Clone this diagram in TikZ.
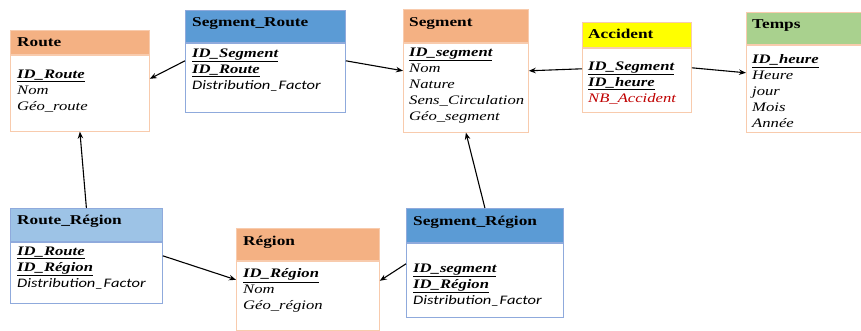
\documentclass[tikz,border=0pt]{standalone}
\usepackage{fontspec}
\setmainfont{Liberation Serif}[FakeStretch=1.28]
\setsansfont{Carlito}[FakeStretch=1.27]
\usetikzlibrary{arrows.meta,positioning,calc}
\definecolor{hdorange}{RGB}{244,177,131}
\definecolor{bdorange}{RGB}{248,203,173}
\definecolor{hdblue}{RGB}{91,155,213}
\definecolor{bdblue}{RGB}{143,170,220}
\definecolor{hdlblue}{RGB}{157,195,230}
\definecolor{hdyellow}{RGB}{255,255,0}
\definecolor{hdgreen}{RGB}{169,209,142}
\definecolor{nbred}{RGB}{192,0,0}
\newcommand{\clef}[1]{\underline{\textbf{#1}}}
\newcommand{\dfac}{{\sffamily Distribution\_Factor}}

\begin{document}
\begin{tikzpicture}[x=1pt, y=-1pt,
  thead/.style={anchor=north west, inner sep=0, line width=0.8pt},
  hor/.style={thead, fill=hdorange, draw=bdorange},
  hbl/.style={thead, fill=hdblue, draw=bdblue},
  hlb/.style={thead, fill=hdlblue, draw=bdblue},
  hye/.style={thead, fill=hdyellow, draw=bdorange},
  hgr/.style={thead, fill=hdgreen, draw=bdorange},
  tbody/.style={anchor=north west, inner sep=0, line width=0.8pt, fill=white},
  ttl/.style={anchor=base west, inner sep=0, font=\bfseries\fontsize{13.5}{16}\selectfont},
  attrs/.style={anchor=north west, inner sep=0, align=left,
                font=\itshape\fontsize{13}{16}\selectfont},
  lk/.style={-{Stealth[length=7pt,width=5.5pt]}, line width=1.1pt}]
\useasboundingbox (0,0) rectangle (861,330);
% tables of the upper row
\node[hor, minimum width=139pt, minimum height=24pt] (routeH) at (10,30) {};
\node[tbody, draw=bdorange, minimum width=139pt, minimum height=76pt] (routeB) at (routeH.south west) {};
\node[ttl] (routeT) at (17,46) {Route};
\node[attrs] (routeL) at (17,69.5) {\clef{ID\_Route}\\ Nom\\ Géo\_route};

\node[hbl, minimum width=160pt, minimum height=32pt] (srH) at (185,10) {};
\node[tbody, draw=bdblue, minimum width=160pt, minimum height=69pt] (srB) at (srH.south west) {};
\node[ttl] (srT) at (192,26) {Segment\_Route};
\node[attrs] (srL) at (192,48.5) {\clef{ID\_Segment}\\ \clef{ID\_Route}\\ \dfac};

\node[hor, minimum width=125pt, minimum height=33pt] (segH) at (403,9) {};
\node[tbody, draw=bdorange, minimum width=125pt, minimum height=89pt] (segB) at (segH.south west) {};
\node[ttl] (segT) at (409,26) {Segment};
\node[attrs] (segL) at (409,47.5) {\clef{ID\_segment}\\ Nom\\ Nature\\ Sens\_Circulation\\ Géo\_segment};

\node[hye, minimum width=109pt, minimum height=25pt] (accH) at (582,22) {};
\node[tbody, draw=bdorange, minimum width=109pt, minimum height=64pt] (accB) at (accH.south west) {};
\node[ttl] (accT) at (588,38) {Accident};
\node[attrs] (accL) at (588,61.5) {\clef{ID\_Segment}\\ \clef{ID\_heure}\\ \textcolor{nbred}{NB\_Accident}};

\node[hgr, minimum width=125pt, minimum height=32pt] (tpsH) at (746,12) {};
\node[tbody, draw=bdorange, minimum width=125pt, minimum height=87pt] (tpsB) at (tpsH.south west) {};
\node[ttl] (tpsT) at (752,28) {Temps};
\node[attrs] (tpsL) at (752,54.5) {\clef{ID\_heure}\\ Heure\\ jour\\ Mois\\ Année};

% tables of the lower row
\node[hlb, minimum width=152pt, minimum height=33pt] (rrH) at (10,208) {};
\node[tbody, draw=bdblue, minimum width=152pt, minimum height=61pt] (rrB) at (rrH.south west) {};
\node[ttl] (rrT) at (17,224) {Route\_Région};
\node[attrs] (rrL) at (17,246.5) {\clef{ID\_Route}\\ \clef{ID\_Région}\\ \dfac};

\node[hor, minimum width=143pt, minimum height=32pt] (regH) at (236,228) {};
\node[tbody, draw=bdorange, minimum width=143pt, minimum height=69pt] (regB) at (regH.south west) {};
\node[ttl] (regT) at (243,245) {Région};
\node[attrs] (regL) at (243,268.5) {\clef{ID\_Région}\\ Nom\\ Géo\_région};

\node[hbl, minimum width=157pt, minimum height=34pt] (sgrH) at (406,208) {};
\node[tbody, draw=bdblue, minimum width=157pt, minimum height=74pt] (sgrB) at (sgrH.south west) {};
\node[ttl] (sgrT) at (413,225) {Segment\_Région};
\node[attrs] (sgrL) at (413,263.5) {\clef{ID\_segment}\\ \clef{ID\_Région}\\ \dfac};

% links
\draw[lk] ($(srB.north west)+(0,18)$) -- ($(routeB.north east)+(0,24)$);
\draw[lk] ($(srB.north east)+(0,18)$) -- ($(segB.north west)+(0,28)$);
\draw[lk] ($(accB.north west)+(0,21)$) -- ($(segB.north east)+(0,28)$);
\draw[lk] ($(accB.north east)+(0,20)$) -- ($(tpsB.north west)+(0,28)$);
\draw[lk] (rrH.north) -- (routeB.south);
\draw[lk] ($(rrB.north east)+(0,14)$) -- ($(regB.north west)+(0,19)$);
\draw[lk] ($(sgrB.north west)+(0,21)$) -- ($(regB.north east)+(0,20)$);
\draw[lk] (sgrH.north) -- (segB.south);
\end{tikzpicture}
\end{document}
